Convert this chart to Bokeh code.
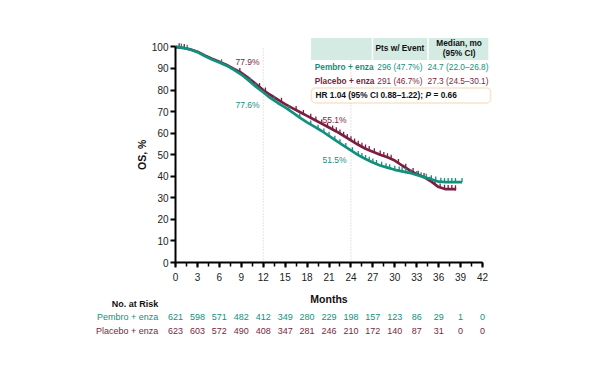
import numpy as np
from bokeh.plotting import figure
from bokeh.layouts import column
from bokeh.models import Label, BoxAnnotation, FixedTicker, Range1d, LinearAxis
from bokeh.core.properties import value
from bokeh.embed import file_html
from bokeh.resources import INLINE

# ---------------- data ----------------
pembro_months = [0, 1, 2, 3, 4, 5, 6, 7, 8, 9, 10, 11, 12, 13, 14, 15, 16, 17, 18, 19,
                 20, 21, 22, 23, 24, 25, 26, 27, 28, 29, 30, 31, 32, 33, 34, 35, 36, 37, 38, 39.2]
pembro_os = [100, 99.6, 98.8, 97.6, 95.8, 94.2, 92.8, 91.3, 89.4, 87.2, 84.5, 81.6, 79.0, 76.2,
             74.0, 72.0, 69.6, 67.2, 65.0, 63.0, 61.0, 58.7, 56.4, 54.2, 52.0, 49.8, 48.0, 46.4,
             45.0, 44.0, 43.0, 42.3, 41.6, 40.6, 39.6, 38.6, 37.5, 37.3, 37.3, 37.3]
placebo_months = [0, 1, 2, 3, 4, 5, 6, 7, 8, 9, 10, 11, 12, 13, 14, 15, 16, 17, 18, 19,
                  20, 21, 22, 23, 24, 25, 26, 27, 28, 29, 30, 31, 32, 33, 34, 35, 36, 37, 38, 38.4]
placebo_os = [100, 99.6, 98.9, 97.8, 96.0, 94.5, 93.1, 91.6, 89.8, 88.0, 85.5, 82.8, 80.0, 77.7,
              75.6, 73.5, 71.6, 69.8, 68.0, 66.2, 64.4, 62.6, 60.8, 58.8, 56.7, 54.6, 52.8, 51.4,
              50.0, 48.8, 47.3, 45.0, 42.8, 41.0, 39.6, 37.5, 35.0, 34.0, 34.0, 33.9]
pembro_censor = [0.8, 1.6, 6.3, 10.2, 11.0, 13.5, 15.5, 17.0, 18.5, 19.5, 20.3, 21.0, 21.8, 22.5,
                 23.3, 24.2, 25.0, 25.5, 26.0, 26.5, 27.0, 27.5, 28.2, 28.8, 29.3, 30.0, 30.6,
                 31.0, 31.5, 32.2, 33.0, 33.6, 34.3, 35.0, 35.6, 36.3, 36.8, 37.3, 37.8, 38.3, 39.2]
placebo_censor = [0.5, 1.2, 8.8, 11.5, 12.3, 14.5, 16.5, 17.5, 18.5, 19.2, 20.0, 20.8, 21.5, 22.0,
                  22.5, 23.0, 23.5, 24.0, 24.5, 25.0, 25.5, 26.0, 26.5, 27.2, 28.0, 28.5, 29.0,
                  29.5, 30.5, 31.5, 32.5, 33.2, 34.0, 34.8, 35.5, 36.2, 36.8, 37.3, 37.8, 38.3]
risk_months = [0, 3, 6, 9, 12, 15, 18, 21, 24, 27, 30, 33, 36, 39, 42]
pembro_risk = [621, 598, 571, 482, 412, 349, 280, 229, 198, 157, 123, 86, 29, 1, 0]
placebo_risk = [623, 603, 572, 490, 408, 347, 281, 246, 210, 172, 140, 87, 31, 0, 0]
landmark_months = [12, 24]
pembro_landmark = ["77.6%", "51.5%"]
placebo_landmark = ["77.9%", "55.1%"]
series_names = ["Pembro + enza", "Placebo + enza"]
pts_event = ["296 (47.7%)", "291 (46.7%)"]
median_ci = ["24.7 (22.0\u201326.8)", "27.3 (24.5\u201330.1)"]

TEAL = "#138f7e"
MAROON = "#7a1f40"
FONT = "Liberation Sans"

W = 590
FRAME_W = 322
X_END = 44.05
K = FRAME_W / X_END          # px per month
LEFT = 175

p = figure(width=W, height=283, x_range=Range1d(0, X_END), y_range=Range1d(0, 105.77),
           output_backend="svg", toolbar_location=None,
           min_border_left=LEFT, min_border_right=W - LEFT - FRAME_W, min_border_top=34, min_border_bottom=20)
p.frame_align = False
p.xgrid.grid_line_color = None
p.ygrid.grid_line_color = None
p.outline_line_color = None

# axes
p.xaxis.bounds = (0, 42)
p.yaxis.bounds = (0, 100)
p.xaxis.ticker = FixedTicker(ticks=list(range(0, 43, 3)), minor_ticks=list(np.arange(0, 42.1, 1.5)))
p.yaxis.ticker = FixedTicker(ticks=list(range(0, 101, 10)))
for ax in (p.xaxis, p.yaxis):
    ax.axis_line_width = 2
    ax.axis_line_color = "black"
    ax.major_tick_line_width = 2
    ax.major_tick_line_color = "black"
    ax.major_tick_in = 0
    ax.major_tick_out = 5
    ax.minor_tick_in = 0
    ax.minor_tick_out = 4
    ax.minor_tick_line_width = 1.5
    ax.minor_tick_line_color = "black"
    ax.major_label_text_font = FONT
    ax.major_label_text_font_size = "10px"
    ax.major_label_text_color = "#222222"
p.yaxis.minor_tick_line_color = None
p.xaxis.major_label_standoff = 5
p.yaxis.major_label_standoff = 2

# y-axis title, placed at y = 50 by a label-only axis
os_axis = LinearAxis(ticker=FixedTicker(ticks=[50]), major_label_overrides={50: "OS, %"},
                     axis_line_color=None, major_tick_line_color=None, minor_tick_line_color=None,
                     major_tick_out=0, minor_tick_out=0, major_tick_in=0, minor_tick_in=0,
                     major_label_orientation="vertical", major_label_standoff=0,
                     major_label_text_font=FONT, major_label_text_font_size="10.5px",
                     major_label_text_font_style="bold", major_label_text_color="#111111")
p.add_layout(os_axis, "left")

# landmark dotted lines
for m in landmark_months:
    p.segment(x0=m, y0=0, x1=m, y1=100, line_color="#c8c8c8", line_width=1, line_dash="1 2")

# curves with censor ticks
for mo, os_, cen, col in ((placebo_months, placebo_os, placebo_censor, MAROON),
                          (pembro_months, pembro_os, pembro_censor, TEAL)):
    p.line(mo, os_, line_color=col, line_width=2.7)
    cy = np.interp(cen, mo, os_)
    p.segment(x0=cen, y0=cy, x1=cen, y1=cy + 1.9, line_color=col, line_width=1.3)

# landmark labels
lab_style = dict(text_font=FONT, text_font_size="8.5px", text_align="right", text_baseline="middle")
p.add_layout(Label(x=landmark_months[0] - 0.5, y=92.9, text=placebo_landmark[0], text_color=MAROON, **lab_style))
p.add_layout(Label(x=landmark_months[0] - 0.5, y=73.1, text=pembro_landmark[0], text_color=TEAL, **lab_style))
p.add_layout(Label(x=landmark_months[1] - 0.6, y=66.0, text=placebo_landmark[1], text_color=MAROON, **lab_style))
p.add_layout(Label(x=landmark_months[1] - 0.6, y=47.6, text=pembro_landmark[1], text_color=TEAL, **lab_style))

# summary table (top right)
HEAD = "#d3ebe2"
p.quad(left=[18.55, 27.05, 34.65], right=[26.85, 34.45, 42.8], top=104.2, bottom=93.9,
       fill_color=HEAD, line_color=None)
tstyle = dict(text_font=FONT, text_font_size="8.3px", text_baseline="middle")
p.add_layout(Label(x=30.7, y=99.3, text="Pts w/ Event", text_font_style="bold",
                   text_align="center", text_color="#111111", **tstyle))
p.add_layout(Label(x=38.8, y=101.6, text="Median, mo", text_font_style="bold",
                   text_align="center", text_color="#111111", **tstyle))
p.add_layout(Label(x=38.8, y=97.0, text="(95% CI)", text_font_style="bold",
                   text_align="center", text_color="#111111", **tstyle))
for name, ev, med, col, yy in ((series_names[0], pts_event[0], median_ci[0], TEAL, 90.7),
                               (series_names[1], pts_event[1], median_ci[1], MAROON, 84.1)):
    p.add_layout(Label(x=19.05, y=yy, text=name, text_font_style="bold", text_align="left",
                       text_color=col, **tstyle))
    p.add_layout(Label(x=30.7, y=yy, text=ev, text_align="center", text_color=col, **tstyle))
    p.add_layout(Label(x=38.65, y=yy, text=med, text_align="center", text_color=col, **tstyle))

p.add_layout(BoxAnnotation(left=18.6, right=43.1, top=81.0, bottom=74.0, fill_color="white", fill_alpha=1,
                           line_color="#f2a65a", line_width=1.5, border_radius=4))
hr_style = dict(text_font=FONT, text_font_size="8.3px", text_align="left", text_baseline="middle",
                text_color="#111111")
p.add_layout(Label(x=19.15, y=77.6, text="HR 1.04 (95% CI 0.88\u20131.22);", text_font_style="bold", **hr_style))
p.add_layout(Label(x=34.2, y=77.6, text="P", text_font_style="bold italic", **hr_style))
p.add_layout(Label(x=35.3, y=77.6, text="= 0.66", text_font_style="bold", **hr_style))

# ---------------- lower panel: axis title + number at risk ----------------
QH = 77
q = figure(width=W, height=QH, x_range=Range1d(-LEFT / K, (W - LEFT) / K), y_range=Range1d(QH, 0),
           output_backend="svg", toolbar_location=None, x_axis_type=None, y_axis_type=None,
           min_border_left=0, min_border_right=0, min_border_top=0, min_border_bottom=0)
q.frame_align = False
q.xgrid.grid_line_color = None
q.ygrid.grid_line_color = None
q.outline_line_color = None

q.text(x=[21], y=[15], text=["Months"], text_font=value(FONT), text_font_size="10.5px",
       text_font_style="bold", text_align="center", text_baseline="middle", text_color="#111111")
q.text(x=[-2.37], y=[20.7], text=["No. at Risk"], text_font=value(FONT), text_font_size="9px",
       text_font_style="bold", text_align="right", text_baseline="middle", text_color="#111111")
for name, risk, col, yy in ((series_names[0], pembro_risk, TEAL, 33.7),
                            (series_names[1], placebo_risk, MAROON, 47.0)):
    q.text(x=[-2.37], y=[yy], text=[name], text_font=value(FONT), text_font_size="9px",
           text_align="right", text_baseline="middle", text_color=col)
    q.text(x=risk_months, y=[yy] * len(risk_months), text=[str(r) for r in risk],
           text_font=value(FONT), text_font_size="9px", text_align="center",
           text_baseline="middle", text_color=col)

layout = column(p, q, spacing=0)
open("out.html", "w").write(file_html(layout, INLINE))
